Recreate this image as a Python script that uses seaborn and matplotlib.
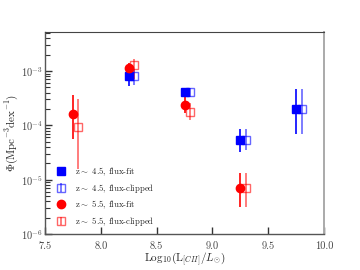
import numpy as np
import matplotlib
matplotlib.use("Agg")
import matplotlib.pyplot as plt
import seaborn as sns

# z~4.5 flux-fit
x45_fit = [8.25, 8.75, 9.25, 9.75]
y45_fit = [8.1e-4, 4.1e-4, 5.4e-5, 2.0e-4]
lo45_fit = [5.4e-4, 3.4e-4, 3.2e-5, 6.8e-5]
hi45_fit = [1.1e-3, 4.9e-4, 8.5e-5, 4.6e-4]
# z~4.5 flux-clipped
x45_clip = [8.30, 8.80, 9.30, 9.80]
y45_clip = [8.0e-4, 4.1e-4, 5.5e-5, 2.0e-4]
lo45_clip = [5.5e-4, 3.4e-4, 3.5e-5, 6.8e-5]
hi45_clip = [1.1e-3, 4.9e-4, 8.5e-5, 4.6e-4]
# z~5.5 flux-fit
x55_fit = [7.75, 8.25, 8.75, 9.25]
y55_fit = [1.6e-4, 1.12e-3, 2.4e-4, 6.9e-6]
lo55_fit = [5.6e-5, 8.5e-4, 1.7e-4, 3.1e-6]
hi55_fit = [3.6e-4, 1.4e-3, 4.0e-4, 1.35e-5]
# z~5.5 flux-clipped
x55_clip = [7.80, 8.30, 8.80, 9.30]
y55_clip = [9.2e-5, 1.29e-3, 1.78e-4, 7.0e-6]
lo55_clip = [1.6e-5, 7.1e-4, 1.26e-4, 3.1e-6]
hi55_clip = [3.0e-4, 1.7e-3, 2.6e-4, 1.35e-5]

labels = [r'z$\sim$ 4.5, flux-fit', r'z$\sim$ 4.5, flux-clipped',
          r'z$\sim$ 5.5, flux-fit', r'z$\sim$ 5.5, flux-clipped']
xticks = [7.5, 8.0, 8.5, 9.0, 9.5, 10.0]

sns.set_theme(style="white")
plt.rcParams['font.family'] = ['cmr10', 'DejaVu Serif']
plt.rcParams['mathtext.fontset'] = 'cm'
plt.rcParams['axes.formatter.use_mathtext'] = True
plt.rcParams['axes.unicode_minus'] = False

fig = plt.figure(figsize=(3.6, 2.7), dpi=100)
ax = fig.add_axes([0.125, 0.133, 0.775, 0.748])

def err(y, lo, hi):
    y = np.array(y); return [y - np.array(lo), np.array(hi) - y]

ax.errorbar(x45_fit, y45_fit, yerr=err(y45_fit, lo45_fit, hi45_fit), fmt='s',
            color='blue', ms=6, elinewidth=1.2, capsize=0, label=labels[0], zorder=3)
ax.errorbar(x45_clip, y45_clip, yerr=err(y45_clip, lo45_clip, hi45_clip), fmt='s',
            color='blue', mfc='none', mec='blue', ms=6, mew=1.0, elinewidth=1.2,
            capsize=0, alpha=0.6, label=labels[1], zorder=2)
ax.errorbar(x55_fit, y55_fit, yerr=err(y55_fit, lo55_fit, hi55_fit), fmt='o',
            color='red', ms=6, elinewidth=1.2, capsize=0, label=labels[2], zorder=3)
ax.errorbar(x55_clip, y55_clip, yerr=err(y55_clip, lo55_clip, hi55_clip), fmt='s',
            color='red', mfc='none', mec='red', ms=6, mew=1.0, elinewidth=1.2,
            capsize=0, alpha=0.6, label=labels[3], zorder=2)

ax.set_yscale('log')
ax.set_xlim(7.5, 10.0)
ax.set_ylim(1e-6, 5.2e-3)
ax.set_xticks(xticks)
ax.set_xticklabels([f'{t:.1f}' for t in xticks])
ax.set_yticks([1e-6, 1e-5, 1e-4, 1e-3])
ax.set_yticklabels([r'$10^{-6}$', r'$10^{-5}$', r'$10^{-4}$', r'$10^{-3}$'])
ax.yaxis.set_minor_locator(matplotlib.ticker.LogLocator(base=10, subs=np.arange(2, 10)))
ax.yaxis.set_minor_formatter(matplotlib.ticker.NullFormatter())
ax.tick_params(axis='both', which='major', direction='in', length=5, width=1.0,
               labelsize=7.5, color='#222222', left=True, bottom=True)
ax.tick_params(axis='x', which='major', pad=5)
ax.tick_params(axis='y', which='major', pad=1.5)
ax.tick_params(axis='y', which='minor', direction='in', length=3.5, width=0.8,
               color='#222222', left=True)
ax.tick_params(colors='#333333', which='both')
ax.tick_params(labelcolor='#444444')

for s in ['left', 'bottom']:
    ax.spines[s].set_color('#555555'); ax.spines[s].set_linewidth(1.0)
ax.spines['top'].set_color('#444444'); ax.spines['top'].set_linewidth(0.8)
ax.spines['right'].set_color('#aaaaaa'); ax.spines['right'].set_linewidth(1.4)

ax.set_xlabel(r'$\mathrm{Log}_{10}(\mathrm{L}_{[CII]}/L_{\odot})$', fontsize=8, labelpad=0)
ax.set_ylabel(r'$\Phi(\mathrm{Mpc}^{-3}\mathrm{dex}^{-1})$', fontsize=8, labelpad=1)

ax.legend(loc='lower left', fontsize=6.3, frameon=False, handlelength=1.0,
          handletextpad=1.1, labelspacing=0.45, borderaxespad=0.3,
          bbox_to_anchor=(0.02, 0.0))

fig.savefig('out.png', dpi=100)
